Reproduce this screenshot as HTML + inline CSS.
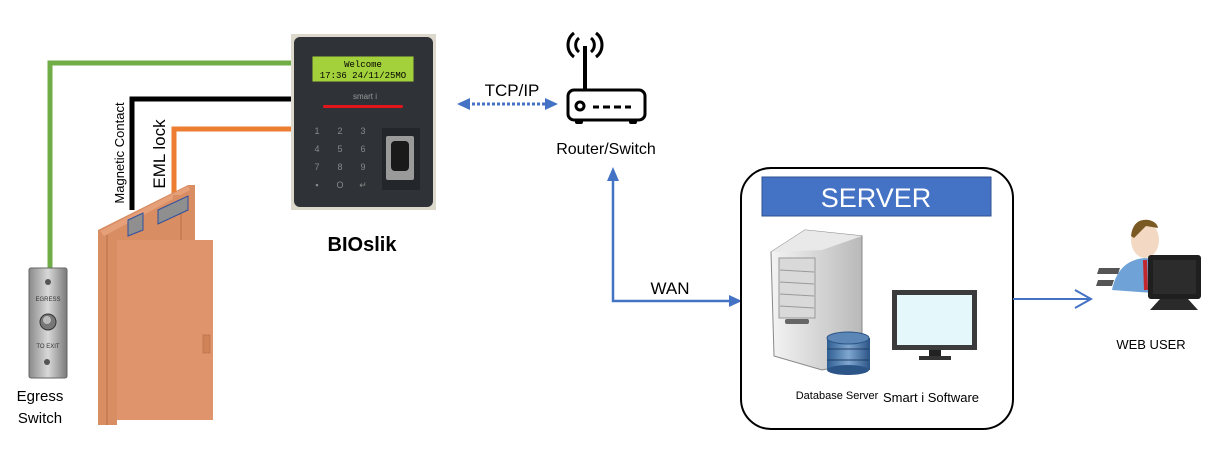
<!DOCTYPE html>
<html><head><meta charset="utf-8"><style>
html,body{margin:0;padding:0;background:#fff;}
svg{display:block;font-family:"Liberation Sans",sans-serif;}
</style></head><body>
<svg width="1222" height="450" viewBox="0 0 1222 450" xmlns="http://www.w3.org/2000/svg">
<defs>
<linearGradient id="sv" x1="0" x2="1"><stop offset="0" stop-color="#f4f4f4"/><stop offset="1" stop-color="#b9b9b9"/></linearGradient>
<linearGradient id="db" x1="0" x2="1"><stop offset="0" stop-color="#2f5f93"/><stop offset=".5" stop-color="#7fa6cf"/><stop offset="1" stop-color="#2b5587"/></linearGradient>
<linearGradient id="eg" x1="0" x2="1"><stop offset="0" stop-color="#8a8a8a"/><stop offset=".5" stop-color="#d8d8d8"/><stop offset="1" stop-color="#7a7a7a"/></linearGradient>
</defs>
<polyline points="50,277 50,63 292,63" fill="none" stroke="#70ad47" stroke-width="5"/>
<polyline points="132,210 132,99 292,99" fill="none" stroke="#000" stroke-width="5"/>
<polyline points="174,203 174,129 292,129" fill="none" stroke="#ed7d31" stroke-width="5"/>
<rect x="29" y="268" width="38" height="110" rx="2" fill="url(#eg)" stroke="#666"/>
<circle cx="48" cy="282" r="3" fill="#555"/>
<text x="48" y="301" font-size="6" text-anchor="middle" fill="#333">EGRESS</text>
<circle cx="48" cy="322" r="8" fill="#777" stroke="#333"/>
<circle cx="47" cy="320" r="4" fill="#bbb"/>
<text x="48" y="348" font-size="6" text-anchor="middle" fill="#333">TO EXIT</text>
<circle cx="47" cy="362" r="3" fill="#555"/>
<text x="40" y="401" font-size="15" text-anchor="middle">Egress</text>
<text x="40" y="423" font-size="15" text-anchor="middle">Switch</text>
<polygon points="98,230 188,185 195,185 195,240 117,240 117,425 98,425" fill="#d88d62"/>
<polygon points="100,231 188,186 190,190 104,236" fill="#e6a079"/>
<rect x="173" y="195" width="22" height="45" fill="#d88d62"/>
<line x1="181" y1="200" x2="181" y2="240" stroke="#b8714a"/>
<line x1="107" y1="235" x2="107" y2="425" stroke="#b8714a"/>
<rect x="117" y="240" width="96" height="180" fill="#df946b"/>
<rect x="203" y="335" width="7" height="18" fill="#d08358" stroke="#b8714a" stroke-width=".7"/>
<polygon points="128,220 143,213 143,230 128,236" fill="#8f8f8f" stroke="#2f4fa0"/>
<polygon points="158,210 188,196 188,210 158,224" fill="#8f8f8f" stroke="#2f4fa0"/>
<text transform="translate(124,153) rotate(-90)" font-size="13" text-anchor="middle">Magnetic Contact</text>
<text transform="translate(165,154) rotate(-90)" font-size="17" text-anchor="middle">EML lock</text>
<rect x="291" y="34" width="145" height="176" fill="#ddd8cc"/>
<rect x="294" y="37" width="139" height="170" rx="6" fill="#2f3338"/>
<rect x="312" y="56" width="102" height="26" fill="#a3d13b" stroke="#333"/>
<text x="363" y="67" font-size="9" font-family="Liberation Mono,monospace" text-anchor="middle">Welcome</text>
<text x="363" y="78" font-size="9" font-family="Liberation Mono,monospace" text-anchor="middle">17:36 24/11/25MO</text>
<text x="365" y="99" font-size="8" fill="#999" text-anchor="middle">smart i</text>
<rect x="323" y="105" width="80" height="3" rx="1.5" fill="#e3151a"/>
<g font-size="9" fill="#888" text-anchor="middle">
<text x="317" y="134">1</text><text x="340" y="134">2</text><text x="363" y="134">3</text>
<text x="317" y="152">4</text><text x="340" y="152">5</text><text x="363" y="152">6</text>
<text x="317" y="170">7</text><text x="340" y="170">8</text><text x="363" y="170">9</text>
<text x="317" y="188">▪</text><text x="340" y="188">O</text><text x="363" y="188">↵</text></g>
<rect x="382" y="128" width="38" height="62" fill="#23262a"/>
<rect x="386" y="136" width="28" height="44" rx="2" fill="#9a9a9a"/>
<rect x="391" y="141" width="18" height="30" rx="4" fill="#1a1a1a"/>
<text x="362" y="251" font-size="20" font-weight="bold" text-anchor="middle">BIOslik</text>
<line x1="467" y1="104" x2="547" y2="104" stroke="#4472c4" stroke-width="3" stroke-dasharray="3,2"/>
<polygon points="457,104 470,98 470,110" fill="#4472c4"/>
<polygon points="558,104 545,98 545,110" fill="#4472c4"/>
<text x="512" y="96" font-size="17" text-anchor="middle">TCP/IP</text>
<g fill="none" stroke="#000" stroke-width="3">
<rect x="568" y="90" width="77" height="30" rx="6"/>
<line x1="585" y1="90" x2="585" y2="46" stroke-width="4"/>
<path d="M579,38 a9,9 0 0,0 0,14 M591,38 a9,9 0 0,1 0,14 M574,33 a15,15 0 0,0 0,24 M596,33 a15,15 0 0,1 0,24"/>
<circle cx="580" cy="106" r="4"/>
</g>
<g stroke="#000" stroke-width="3"><line x1="593" y1="107" x2="599" y2="107"/><line x1="603" y1="107" x2="610" y2="107"/><line x1="614" y1="107" x2="621" y2="107"/><line x1="625" y1="107" x2="631" y2="107"/></g>
<rect x="575" y="119" width="8" height="5" rx="2"/>
<rect x="629" y="119" width="8" height="5" rx="2"/>
<text x="606" y="154" font-size="16" text-anchor="middle">Router/Switch</text>
<polyline points="613,180 613,301 730,301" fill="none" stroke="#4472c4" stroke-width="2.5"/>
<polygon points="613,167 607,181 619,181" fill="#4472c4"/>
<polygon points="742,301 729,295 729,307" fill="#4472c4"/>
<text x="670" y="294" font-size="17" text-anchor="middle">WAN</text>
<rect x="741" y="168" width="272" height="261" rx="30" fill="#fff" stroke="#000" stroke-width="2"/>
<rect x="762" y="177" width="229" height="39" fill="#4472c4" stroke="#2f528f"/>
<text x="876" y="207" font-size="27" fill="#fff" text-anchor="middle">SERVER</text>
<polygon points="771,252 805,230 862,236 862,362 822,370 774,356" fill="url(#sv)" stroke="#888"/>
<polygon points="771,252 805,230 862,236 822,250" fill="#e9e9e9"/>
<rect x="779" y="258" width="36" height="60" fill="#d9d9d9" stroke="#999"/>
<g stroke="#999"><line x1="780" y1="270" x2="814" y2="272"/><line x1="780" y1="282" x2="814" y2="284"/><line x1="780" y1="294" x2="814" y2="296"/><line x1="780" y1="306" x2="814" y2="308"/></g>
<rect x="785" y="319" width="24" height="5" rx="2" fill="#666"/>
<rect x="827" y="338" width="43" height="32" fill="url(#db)"/>
<ellipse cx="848" cy="338" rx="21" ry="6" fill="#5b86b6" stroke="#2b5587"/>
<ellipse cx="848" cy="370" rx="21" ry="5" fill="#2b5587"/>
<line x1="827" y1="349" x2="869" y2="349" stroke="#1f3f66"/><line x1="827" y1="360" x2="869" y2="360" stroke="#1f3f66"/>
<rect x="892" y="290" width="85" height="60" fill="#3b3b3b"/>
<rect x="897" y="295" width="75" height="50" fill="#e4f8fc"/>
<rect x="929" y="350" width="12" height="6" fill="#222"/>
<rect x="919" y="356" width="32" height="4" fill="#333"/>
<text x="837" y="399" font-size="11" text-anchor="middle">Database Server</text>
<text x="931" y="402" font-size="13" text-anchor="middle">Smart i Software</text>
<line x1="1013" y1="299" x2="1090" y2="299" stroke="#4472c4" stroke-width="2"/>
<polyline points="1075,290 1091,299 1075,308" fill="none" stroke="#4472c4" stroke-width="2"/>
<ellipse cx="1145" cy="240" rx="14" ry="18" fill="#f3d9c3"/>
<path d="M1131,236 q2,-18 18,-16 q8,2 9,8 l-12,-2 l-12,12z" fill="#7a5a22"/>
<path d="M1112,290 q6,-30 33,-32 q24,2 30,28 l-8,8 z" fill="#6fa3d8"/>
<line x1="1145" y1="260" x2="1146" y2="290" stroke="#c0282d" stroke-width="4"/>
<rect x="1148" y="255" width="53" height="44" rx="3" fill="#1f1f1f"/>
<rect x="1153" y="260" width="43" height="34" fill="#2c2c2c"/>
<polygon points="1160,299 1188,299 1198,310 1150,310" fill="#2a2a2a"/>
<polygon points="1099,268 1120,268 1118,274 1097,274" fill="#555"/>
<polygon points="1098,280 1114,280 1112,286 1096,286" fill="#555"/>
<text x="1151" y="349" font-size="13" text-anchor="middle">WEB USER</text>
</svg>
</body></html>
